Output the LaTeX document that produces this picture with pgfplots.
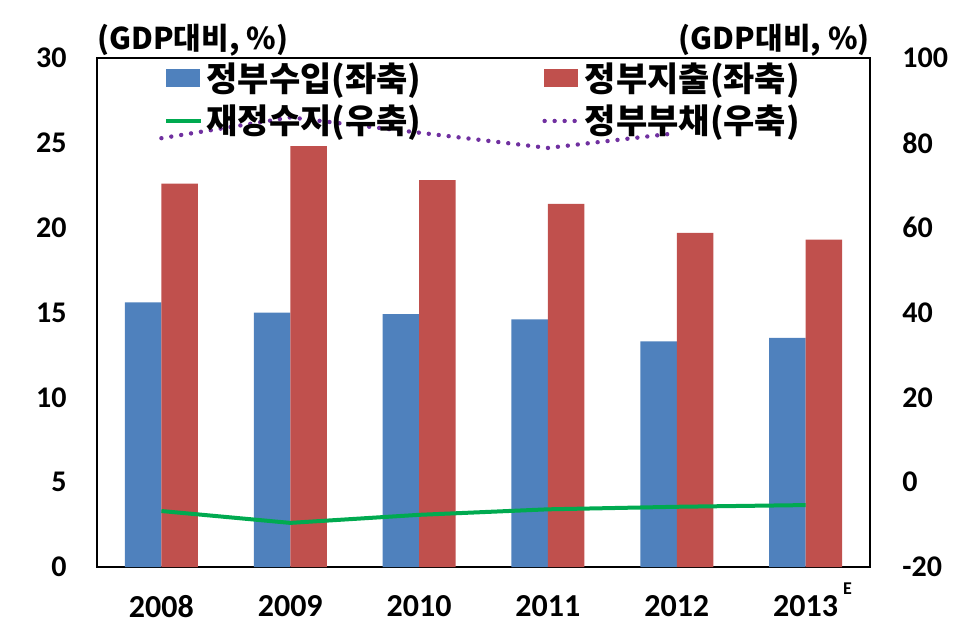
\documentclass[border=0pt]{standalone}
\usepackage{fontspec}
\usepackage{pgfplots}
\pgfplotsset{compat=1.18}
\setmainfont{Carlito}
\newfontfamily\kr{Noto Sans CJK KR}
\definecolor{cblue}{RGB}{79,129,189}
\definecolor{cred}{RGB}{192,80,77}
\definecolor{cgreen}{RGB}{0,170,80}
\definecolor{cpurple}{RGB}{112,48,160}
\begin{document}
\begin{tikzpicture}
\path[use as bounding box] (0,0) rectangle (488.5pt,319.5pt);
\begin{axis}[
  name=ax,
  at={(48.5pt,36pt)}, anchor=south west,
  scale only axis, width=386.5pt, height=254.5pt,
  xmin=-0.5, xmax=5.5, ymin=0, ymax=30,
  xtick={0,1,2,3,4,5},
  xticklabels={2008,2009,2010,2011,2012,{2013\makebox[0pt][l]{\hspace{2.5pt}\smash{\raisebox{11pt}{\fontsize{9}{9}\selectfont E}}}}},
  ytick={0,5,10,15,20,25,30},
  major tick length=0pt,
  ybar=0pt, bar width=18.25pt,
  axis line style={black, line width=1pt},
  /pgf/number format/assume math mode=true,
  yticklabel style={font=\fontsize{15}{15}\selectfont\bfseries, anchor=east, inner sep=0pt, xshift=-15pt},
  xticklabel style={font=\fontsize{16}{16}\selectfont\bfseries, anchor=north, inner sep=0pt, yshift=-14pt},
]
\addplot[fill=cblue, draw=none] coordinates {(0,15.6) (1,15.0) (2,14.9) (3,14.6) (4,13.3) (5,13.5)};
\addplot[fill=cred, draw=none] coordinates {(0,22.6) (1,24.8) (2,22.8) (3,21.4) (4,19.7) (5,19.3)};
\end{axis}
\begin{axis}[
  at={(48.5pt,36pt)}, anchor=south west,
  scale only axis, width=386.5pt, height=254.5pt,
  xmin=-0.5, xmax=5.5, ymin=-20, ymax=100,
  ytick={-20,0,20,40,60,80,100},
  hide x axis, axis y line*=right,
  major tick length=0pt,
  axis line style={black, line width=1pt},
  /pgf/number format/assume math mode=true,
  yticklabel style={font=\fontsize{15}{15}\selectfont\bfseries, anchor=west, inner sep=0pt, xshift=16pt},
  legend columns=2,
  legend cell align=left,
  legend style={at={(0,1)}, anchor=north west, xshift=33.5pt, yshift=0pt,
    draw=none, fill=none, inner sep=0pt, row sep=1.5pt,
    font=\kr\bfseries\fontsize{17}{19}\selectfont,
    /tikz/column 2/.style={column sep=58.5pt}},
]
\addlegendimage{legend image code/.code={\fill[cblue] (0pt,-4.25pt) rectangle (16.5pt,4.25pt);}}
\addlegendentry{정부수입(좌축)}
\addlegendimage{legend image code/.code={\fill[cred] (0pt,-4.25pt) rectangle (16.5pt,4.25pt);}}
\addlegendentry{정부지출(좌축)}
\addplot[cgreen, line width=2pt] coordinates {(0,-6.8) (1,-9.6) (2,-7.7) (3,-6.4) (4,-5.8) (5,-5.4)};
\addlegendentry{재정수지(우축)}
\addplot[cpurple, line width=2.2pt, line cap=round, dash pattern=on 0pt off 5pt] coordinates {(0,81.1) (1,86) (2,82.4) (3,78.8) (4,82.3)};
\addlegendentry{정부부채(우축)}
\end{axis}
\node[anchor=base west, inner sep=0pt, font=\kr\bfseries\fontsize{15}{15}\selectfont] at ([yshift=4.5pt]ax.north west) {(GDP대비, \%)};
\node[anchor=base east, inner sep=0pt, font=\kr\bfseries\fontsize{15}{15}\selectfont] at ([yshift=4.5pt]ax.north east) {(GDP대비, \%)};
\end{tikzpicture}
\end{document}
